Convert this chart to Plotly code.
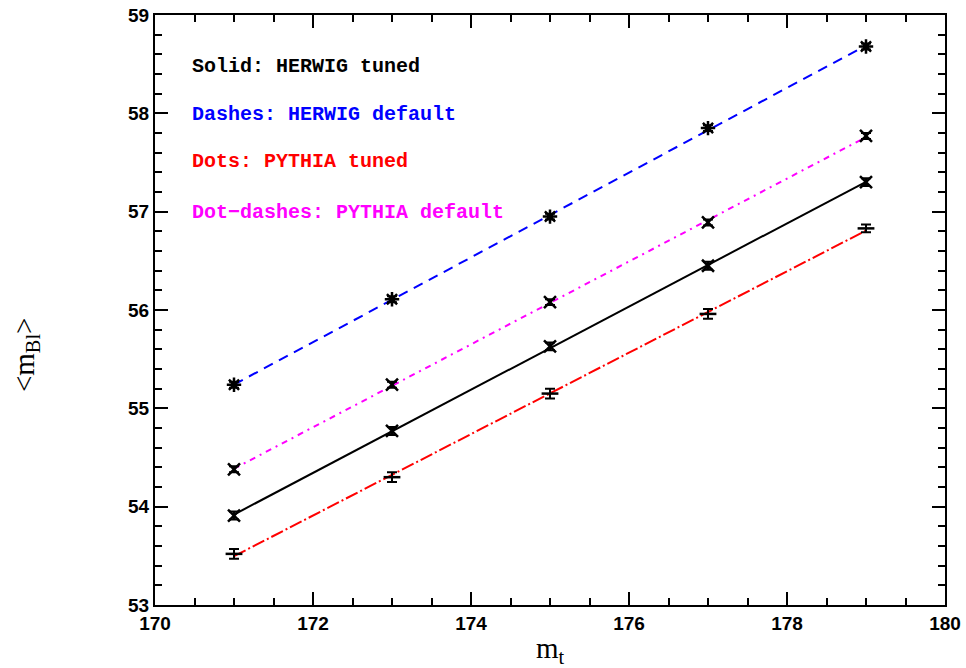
import numpy as np
import plotly.graph_objects as go

mt = [171, 173, 175, 177, 179]
herwig_default = [55.24, 56.11, 56.95, 57.85, 58.68]
pythia_default = [54.38, 55.24, 56.08, 56.89, 57.77]
herwig_tuned = [53.91, 54.77, 55.63, 56.45, 57.30]
pythia_tuned = [53.52, 54.30, 55.15, 55.96, 56.83]
err_hd = [0.03, 0.03, 0.03, 0.03, 0.03]
err_pd = [0.03, 0.03, 0.03, 0.03, 0.03]
err_ht = [0.04, 0.04, 0.04, 0.04, 0.04]
err_pt = [0.05, 0.05, 0.05, 0.05, 0.04]

series = [
    ("HERWIG default", herwig_default, err_hd, "blue", "10px,7px", "asterisk-open"),
    ("PYTHIA default", pythia_default, err_pd, "magenta", "6px,5px,2px,5px", "x-thin-open"),
    ("HERWIG tuned", herwig_tuned, err_ht, "black", "solid", "x-thin-open"),
    ("PYTHIA tuned", pythia_tuned, err_pt, "red", "13px,3px,2px,3px", "line-ew-open"),
]

labels = ["Solid: HERWIG tuned", "Dashes: HERWIG default",
          "Dots: PYTHIA tuned", "Dot\u2212dashes: PYTHIA default"]
label_colors = ["black", "blue", "red", "magenta"]

fig = go.Figure()
xs = np.array(mt, dtype=float)
for name, ys, err, col, dash, sym in series:
    k, b = np.polyfit(xs, np.array(ys), 1)
    xl = [xs[0], xs[-1]]
    fig.add_trace(go.Scatter(x=xl, y=[k * v + b for v in xl], mode="lines",
                             line=dict(color=col, width=2, dash=dash),
                             showlegend=False, hoverinfo="skip"))
    fig.add_trace(go.Scatter(x=mt, y=ys, mode="markers", name=name,
                             marker=dict(symbol=sym, size=12, color="black",
                                         line=dict(color="black", width=2.5)),
                             error_y=dict(type="data", array=err, color="black",
                                          thickness=2, width=5),
                             showlegend=False))

ypos = [0.912, 0.832, 0.751, 0.666]
for t, c, yp in zip(labels, label_colors, ypos):
    fig.add_annotation(x=0.044, y=yp, xref="paper", yref="paper", text="<b>" + t + "</b>",
                       showarrow=False, xanchor="left", yanchor="middle",
                       font=dict(family="Liberation Mono", size=20, color=c))

# axis titles
fig.add_annotation(x=0.5, y=-0.076, xref="paper", yref="paper", text="m<sub>t</sub>",
                   showarrow=False, xanchor="center", yanchor="middle",
                   font=dict(family="Liberation Serif", size=29, color="black"))
fig.add_annotation(x=-0.163, y=0.424, xref="paper", yref="paper",
                   text="&lt;m<sub>Bl</sub>&gt;", textangle=-90,
                   showarrow=False, xanchor="center", yanchor="middle",
                   font=dict(family="Liberation Serif", size=29, color="black"))

tickfont = dict(family="Liberation Sans", size=19, color="black", weight="bold")
common = dict(showgrid=False, zeroline=False, showline=True, linecolor="black",
              linewidth=2, ticks="inside", ticklen=13, tickwidth=2, tickcolor="black",
              automargin=False, ticklabeloverflow="allow")

fig.update_layout(
    xaxis=dict(range=[170, 180], dtick=2, tick0=170, tickfont=tickfont, mirror="allticks",
               minor=dict(dtick=0.5, ticks="inside", ticklen=7, tickwidth=2,
                          tickcolor="black"), **common),
    yaxis=dict(range=[53, 59], dtick=1, tick0=53, tickfont=tickfont, mirror="allticks",
               minor=dict(dtick=0.2, ticks="inside", ticklen=7, tickwidth=2,
                          tickcolor="black"), **common),
    xaxis2=dict(range=[170, 180], dtick=2, tick0=170, overlaying="x", side="top",
                showticklabels=False,
                minor=dict(dtick=0.5, ticks="inside", ticklen=7, tickwidth=2,
                           tickcolor="black"), **common),
    yaxis2=dict(range=[53, 59], dtick=1, tick0=53, overlaying="y", side="right",
                showticklabels=False,
                minor=dict(dtick=0.2, ticks="inside", ticklen=7, tickwidth=2,
                           tickcolor="black"), **common),
)
fig.add_trace(go.Scatter(x=[175], y=[56], xaxis="x2", yaxis="y2", mode="markers",
                         marker=dict(opacity=0, size=1),
                         showlegend=False, hoverinfo="skip"))

fig.update_layout(width=966, height=668, plot_bgcolor="white", paper_bgcolor="white",
                  margin=dict(l=155, r=21, t=15, b=63), showlegend=False)

fig.write_html("out.html", config={"displayModeBar": False},
               post_script="document.body.style.margin='0';"
                           "document.body.style.overflow='hidden';")
